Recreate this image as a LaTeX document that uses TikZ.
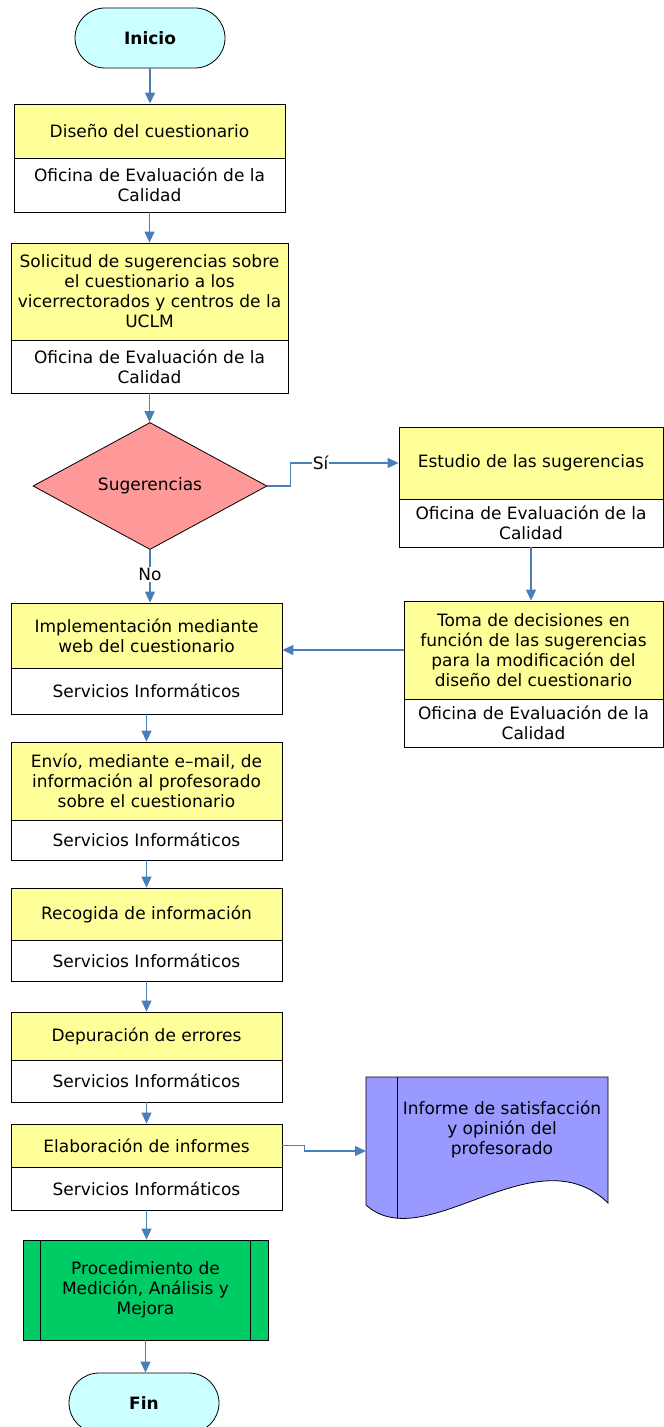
\documentclass[tikz,border=0pt]{standalone}
\usepackage{fontspec}
\setmainfont{DejaVu Sans}
\usetikzlibrary{arrows.meta,shapes.geometric}
\definecolor{termfill}{HTML}{CCFFFF}
\definecolor{yel}{HTML}{FFFF99}
\definecolor{decfill}{HTML}{FF9999}
\definecolor{docfill}{HTML}{9999FF}
\definecolor{procfill}{HTML}{00CC66}
\definecolor{arrowblue}{HTML}{4A7EBB}
\tikzset{
 txt/.style={font=\fontsize{17bp}{20bp}\selectfont, align=center},
 term/.style={draw=black, line width=0.8bp, fill=termfill, rounded corners=30bp, minimum width=150bp, minimum height=60bp, inner sep=0pt, align=center, font=\fontsize{17bp}{20bp}\selectfont\bfseries},
 ybox/.style={txt, draw=black, line width=0.8bp, fill=yel, inner sep=0pt},
 wbox/.style={txt, draw=black, line width=0.8bp, fill=white, inner sep=0pt},
 flow/.style={draw=arrowblue, line width=1.2bp, -{Triangle[length=11bp,width=10bp]}},
 lbl/.style={txt, fill=white, inner sep=1bp},
}
\begin{document}
\begin{tikzpicture}[x=1bp,y=-1bp]
\useasboundingbox (0,0) rectangle (664,1427);
% start
\node[term] (ini) at (150,38) {Inicio};
% box 1
\node[ybox, minimum width=271bp, minimum height=54bp] (d1) at (149.5,131) {Diseño del cuestionario};
\node[wbox, minimum width=271bp, minimum height=54bp] (d1w) at (149.5,185) {Oficina de Evaluación de la\\Calidad};
% box 2
\node[ybox, minimum width=277bp, minimum height=97bp] (d2) at (149.5,291.5) {Solicitud de sugerencias sobre\\el cuestionario a los\\vicerrectorados y centros de la\\UCLM};
\node[wbox, minimum width=277bp, minimum height=53bp] (d2w) at (149.5,366.5) {Oficina de Evaluación de la\\Calidad};
% decision
\node[diamond, draw=black, line width=0.8bp, fill=decfill, minimum width=234bp, minimum height=127bp, inner sep=0pt, txt] (dec) at (150,486) {Sugerencias};
% estudio
\node[ybox, minimum width=264bp, minimum height=72bp] (est) at (531,463) {Estudio de las sugerencias};
\node[wbox, minimum width=264bp, minimum height=48bp] (estw) at (531,523) {Oficina de Evaluación de la\\Calidad};
% toma
\node[ybox, minimum width=259bp, minimum height=98bp] (toma) at (533.5,650) {Toma de decisiones en\\función de las sugerencias\\para la modificación del\\diseño del cuestionario};
\node[wbox, minimum width=259bp, minimum height=48bp] (tomaw) at (533.5,723) {Oficina de Evaluación de la\\Calidad};
% implementacion
\node[ybox, minimum width=271bp, minimum height=65bp] (impl) at (146.5,635.5) {Implementación mediante\\web del cuestionario};
\node[wbox, minimum width=271bp, minimum height=46bp] (implw) at (146.5,691) {Servicios Informáticos};
% envio
\node[ybox, minimum width=271bp, minimum height=78bp] (env) at (146.5,781) {Envío, mediante e–mail, de\\información al profesorado\\sobre el cuestionario};
\node[wbox, minimum width=271bp, minimum height=40bp] (envw) at (146.5,840) {Servicios Informáticos};
% recogida
\node[ybox, minimum width=271bp, minimum height=52bp] (rec) at (146.5,914) {Recogida de información};
\node[wbox, minimum width=271bp, minimum height=41bp] (recw) at (146.5,960.5) {Servicios Informáticos};
% depuracion
\node[ybox, minimum width=271bp, minimum height=48bp] (dep) at (146.5,1036) {Depuración de errores};
\node[wbox, minimum width=271bp, minimum height=42bp] (depw) at (146.5,1081) {Servicios Informáticos};
% elaboracion
\node[ybox, minimum width=271bp, minimum height=43bp] (ela) at (146.5,1145.5) {Elaboración de informes};
\node[wbox, minimum width=271bp, minimum height=43bp] (elaw) at (146.5,1188.5) {Servicios Informáticos};
% document
\path[draw=black, line width=0.8bp, fill=docfill] (366,1077) -- (608,1077) -- (608,1203) .. controls (535,1132) and (425,1258) .. (366,1205) -- cycle;
\begin{scope}
\clip (366,1077) -- (608,1077) -- (608,1203) .. controls (535,1132) and (425,1258) .. (366,1205) -- cycle;
\draw[line width=0.8bp] (397,1077) -- (397,1300);
\end{scope}
\node[txt] (doc) at (502,1129) {Informe de satisfacción\\y opinión del\\profesorado};
\coordinate (docin) at (366,1151);
% predefined process
\node[txt, draw=black, line width=0.8bp, fill=procfill, minimum width=245bp, minimum height=100bp, inner sep=0pt] (proc) at (145.5,1290) {Procedimiento de\\Medición, Análisis y\\Mejora};
\draw[line width=0.8bp] ([xshift=18bp]proc.north west) -- ([xshift=18bp]proc.south west);
\draw[line width=0.8bp] ([xshift=-18bp]proc.north east) -- ([xshift=-18bp]proc.south east);
% end
\node[term] (fin) at (144,1403) {Fin};
% connectors
\draw[flow] (ini.south) -- (ini.south |- d1.north);
\draw[flow] (d1w.south) -- (d1w.south |- d2.north);
\draw[flow] (d2w.south) -- (d2w.south |- dec.north);
\draw[flow] (dec.east) -- ++(23,0) |- node[lbl, pos=0.64] {Sí} (est.west);
\draw[flow] (dec.south) -- node[lbl, pos=0.47] {No} (dec.south |- impl.north);
\draw[flow] (estw.south) -- (estw.south |- toma.north);
\draw[flow] (toma.west) -- (toma.west -| impl.east);
\draw[flow] (implw.south) -- (env.north);
\draw[flow] (envw.south) -- (rec.north);
\draw[flow] (recw.south) -- (dep.north);
\draw[flow] (depw.south) -- (ela.north);
\draw[flow] (ela.east) -- ++(22,0) |- (docin);
\draw[flow] (elaw.south) -- (elaw.south |- proc.north);
\draw[flow] (proc.south) -- (proc.south |- fin.north);
\end{tikzpicture}
\end{document}
